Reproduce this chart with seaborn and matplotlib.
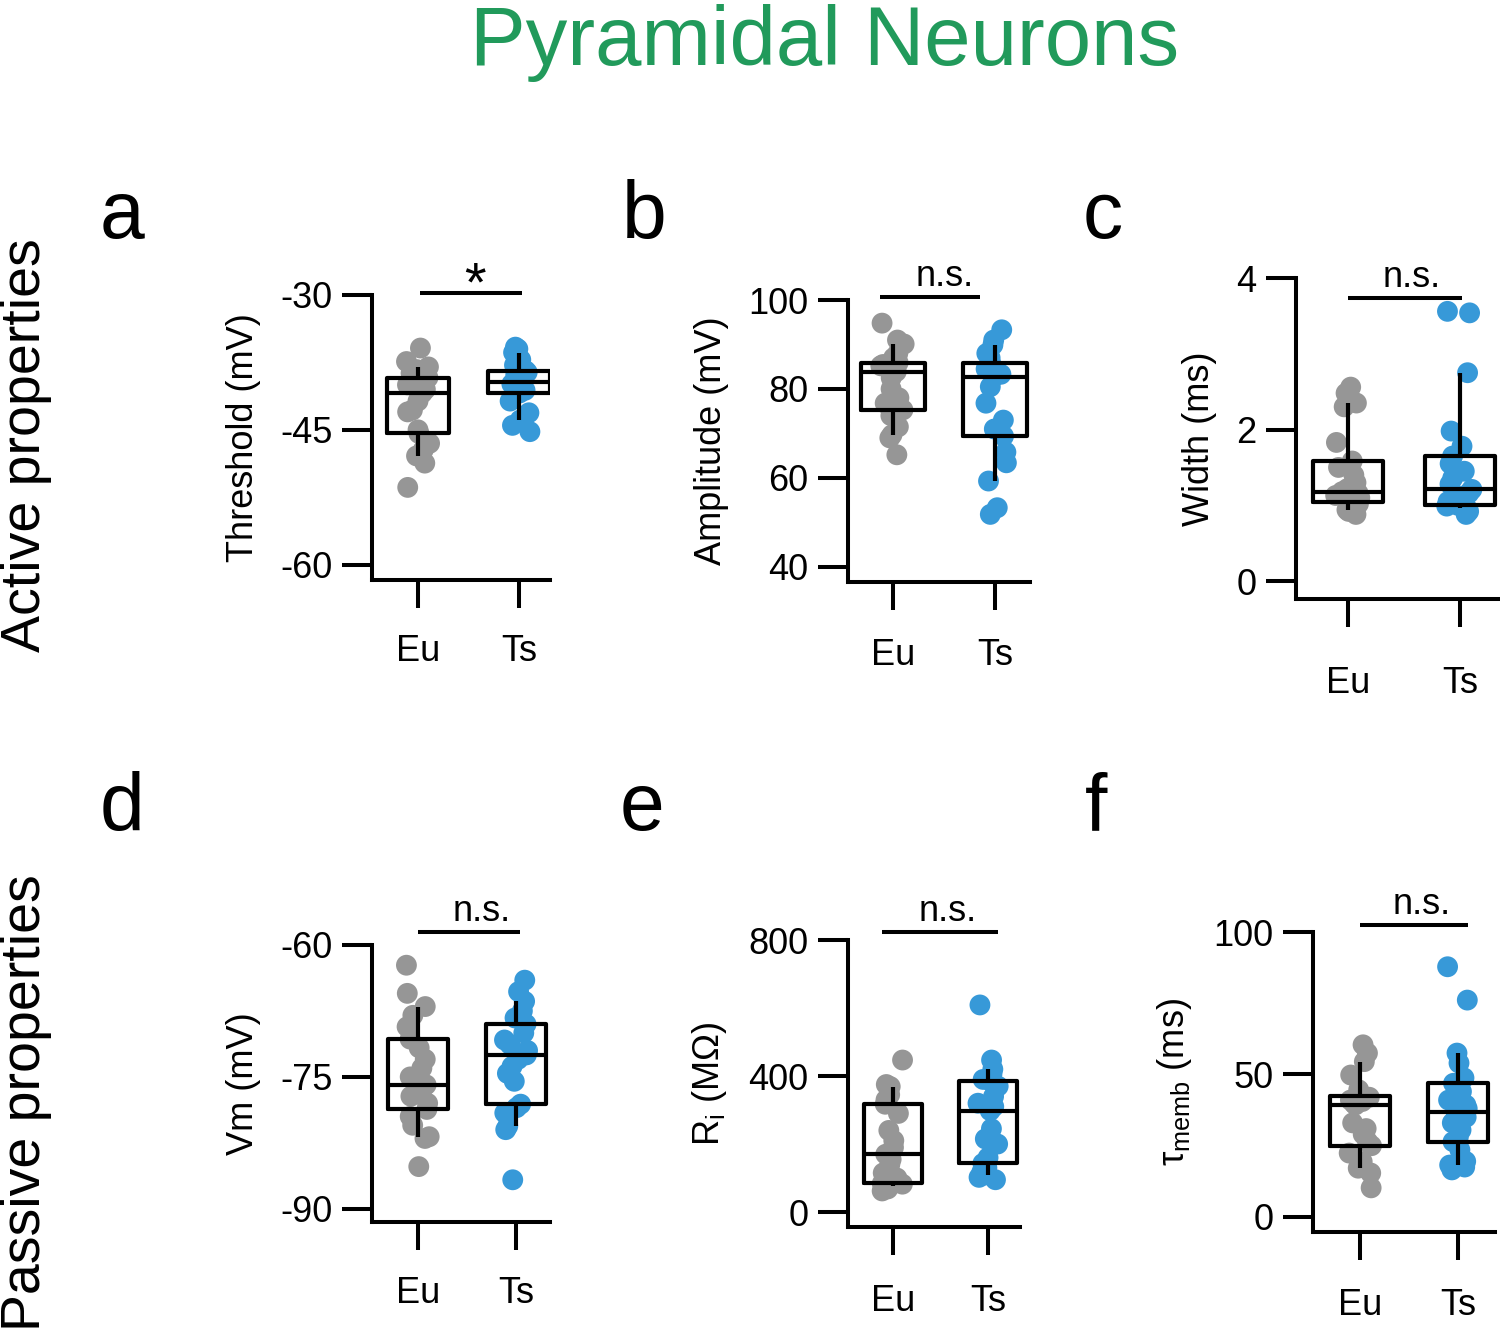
import numpy as np
import pandas as pd
import matplotlib
matplotlib.use('Agg')
import matplotlib.pyplot as plt
import seaborn as sns

#grupos e cores
groups = ['Eu', 'Ts']
gray = '#969696'
blue = '#3799d8'
green = '#219a5b'

#valores (21 células por grupo)
thr_eu = [-51.4, -48.7, -47.9, -47.2, -46.5, -45.4, -45.0, -43.0, -42.8, -41.8, -40.9,
          -40.5, -40.2, -40.0, -39.6, -39.2, -38.7, -38.3, -38.0, -37.4, -35.9]
thr_ts = [-45.2, -44.5, -43.9, -43.1, -41.8, -40.9, -40.6, -40.4, -40.1, -39.9, -39.7,
          -39.5, -39.2, -38.9, -38.6, -38.4, -37.8, -37.2, -36.4, -36.0, -35.8]
amp_eu = [65.2, 69.0, 69.7, 71.5, 74.0, 75.3, 76.8, 78.0, 80.0, 82.5, 83.9,
          84.3, 84.8, 85.2, 85.5, 85.9, 87.0, 88.0, 90.1, 91.0, 94.8]
amp_ts = [51.8, 53.3, 59.3, 63.4, 65.8, 69.4, 71.0, 73.0, 76.8, 80.5, 82.8,
          83.3, 83.8, 84.5, 85.2, 85.8, 87.0, 88.0, 89.9, 91.0, 93.3]
width_eu = [0.88, 0.92, 0.94, 0.98, 1.02, 1.04, 1.07, 1.10, 1.13, 1.16, 1.18,
            1.22, 1.30, 1.40, 1.50, 1.585, 1.83, 2.30, 2.35, 2.48, 2.56]
width_ts = [0.88, 0.92, 0.96, 0.99, 1.00, 1.01, 1.05, 1.08, 1.12, 1.16, 1.21,
            1.28, 1.36, 1.45, 1.55, 1.65, 1.78, 1.98, 2.75, 3.54, 3.56]
vm_eu = [-85.2, -82.0, -81.8, -80.5, -79.5, -78.7, -78.0, -77.2, -76.5, -76.2, -75.9,
         -75.0, -74.0, -73.0, -71.7, -70.7, -69.3, -68.0, -67.0, -65.5, -62.3]
vm_ts = [-86.7, -81.0, -80.6, -79.1, -78.5, -78.1, -75.5, -74.6, -73.8, -73.0, -72.5,
         -72.0, -71.3, -70.8, -70.0, -69.0, -68.3, -67.5, -66.4, -65.3, -64.0]
ri_eu = [62, 68, 76, 78, 82, 84, 100, 115, 140, 155, 170,
         190, 210, 240, 290, 317, 330, 345, 369, 375, 447]
ri_ts = [95, 102, 109, 118, 130, 143, 160, 200, 215, 245, 298,
         310, 320, 340, 370, 385, 390, 405, 420, 447, 609]
tau_eu = [10.2, 15.4, 17.1, 19.4, 22.4, 25.0, 26.5, 29.0, 31.0, 33.0, 39.3,
          39.8, 40.5, 41.0, 42.0, 42.6, 44.6, 49.8, 54.5, 57.5, 60.4]
tau_ts = [16.5, 17.5, 18.2, 19.5, 23.5, 26.4, 28.0, 30.5, 33.0, 35.0, 36.7,
          38.0, 39.3, 41.0, 44.0, 46.9, 48.8, 54.0, 57.5, 76.1, 87.8]

#estilo
sns.set_style('ticks')
plt.rcParams['font.family'] = ['Liberation Sans', 'DejaVu Sans']
plt.rcParams['axes.unicode_minus'] = False
plt.rcParams['mathtext.fontset'] = 'custom'
plt.rcParams['mathtext.rm'] = 'Liberation Sans'
plt.rcParams['mathtext.it'] = 'Liberation Sans:italic'
for k in ['text.color', 'axes.labelcolor', 'xtick.color', 'ytick.color', 'axes.edgecolor']:
    plt.rcParams[k] = 'black'
np.random.seed(7)

W, H = 1500, 1331
fig = plt.figure(figsize=(15, 13.31), dpi=100)

#posições em pixels: caixa do eixo (esq, topo, dir, base) e centro de Eu/Ts
paineis = [
    dict(letra='a', eu=thr_eu, ts=thr_ts, ylabel='Threshold (mV)', yticks=[-60, -45, -30],
         ylim=(-61.7, -30), box=(372, 295, 550, 580), xpx=(418, 519), letra_xy=(100, 238),
         sig='*', sig_x=(0.02, 1.03), sig_y=-29.8, sig_tx=0.56, sig_size=40, sig_off=-5, xpad=19),
    dict(letra='b', eu=amp_eu, ts=amp_ts, ylabel='Amplitude (mV)', yticks=[40, 60, 80, 100],
         ylim=(36.6, 100), box=(848, 300, 1030, 582), xpx=(893, 995), letra_xy=(622, 238),
         sig='n.s.', sig_x=(-0.13, 0.85), sig_y=100.7, sig_tx=0.51, sig_size=26, sig_off=8, xpad=20),
    dict(letra='c', eu=width_eu, ts=width_ts, ylabel='Width (ms)', yticks=[0, 2, 4],
         ylim=(-0.236, 4), box=(1296, 278, 1498, 599), xpx=(1348, 1460), letra_xy=(1083, 238),
         sig='n.s.', sig_x=(0.0, 1.02), sig_y=3.74, sig_tx=0.57, sig_size=26, sig_off=8, xpad=28),
    dict(letra='d', eu=vm_eu, ts=vm_ts, ylabel='Vm (mV)', yticks=[-90, -75, -60],
         ylim=(-91.5, -60), box=(372, 945, 550, 1222), xpx=(418, 516), letra_xy=(100, 830),
         sig='n.s.', sig_x=(0.0, 1.04), sig_y=-58.5, sig_tx=0.65, sig_size=26, sig_off=8, xpad=19),
    dict(letra='e', eu=ri_eu, ts=ri_ts, ylabel='R$_{\\mathrm{i}}$ (MΩ)', yticks=[0, 400, 800],
         ylim=(-44, 800), box=(848, 940, 1020, 1227), xpx=(893, 988), letra_xy=(620, 830),
         sig='n.s.', sig_x=(-0.12, 1.1), sig_y=823.5, sig_tx=0.58, sig_size=26, sig_off=8, xpad=21),
    dict(letra='f', eu=tau_eu, ts=tau_ts, ylabel='τ$_{\\mathrm{memb}}$ (ms)', yticks=[0, 50, 100],
         ylim=(-5.3, 100), box=(1313, 932, 1495, 1232), xpx=(1360, 1458), letra_xy=(1085, 830),
         sig='n.s.', sig_x=(0.0, 1.1), sig_y=102.5, sig_tx=0.63, sig_size=26, sig_off=8, xpad=20),
]

for p in paineis:
    l, t, r, b = p['box']
    ax = fig.add_axes([l / W, 1 - b / H, (r - l) / W, (b - t) / H])
    df = pd.DataFrame({'grupo': ['Eu'] * len(p['eu']) + ['Ts'] * len(p['ts']),
                       'valor': p['eu'] + p['ts']})
    sns.stripplot(data=df, x='grupo', y='valor', hue='grupo', order=groups, hue_order=groups,
                  palette=[gray, blue], size=15, jitter=0.12, linewidth=0, legend=False,
                  ax=ax, zorder=1)
    sns.boxplot(data=df, x='grupo', y='valor', order=groups, width=0.62, whis=(10, 90),
                showfliers=False, showcaps=False, fill=False, color='black', linecolor='black',
                linewidth=3.0, ax=ax, zorder=3)
    #limites a partir das posições em pixels
    unit = p['xpx'][1] - p['xpx'][0]
    ax.set_xlim((l - p['xpx'][0]) / unit, (r - p['xpx'][0]) / unit)
    ax.set_ylim(*p['ylim'])
    ax.set_yticks(p['yticks'])
    ax.set_yticklabels([str(v) for v in p['yticks']])
    ax.set_xlabel('')
    ax.set_ylabel(p['ylabel'], fontsize=26, labelpad=14)
    sns.despine(ax=ax)
    for s in ['left', 'bottom']:
        ax.spines[s].set_linewidth(2.9)
        ax.spines[s].set_capstyle('projecting')
    ax.tick_params(axis='y', length=21.5, width=2.9, pad=7, labelsize=26)
    ax.tick_params(axis='x', length=20, width=2.9, pad=p['xpad'], labelsize=26)
    #barra de significância
    x0, x1 = p['sig_x']
    ax.plot([x0, x1], [p['sig_y'], p['sig_y']], color='black', lw=2.9, clip_on=False,
            solid_capstyle='butt')
    ax.annotate(p['sig'], xy=(p['sig_tx'], p['sig_y']), xytext=(0, p['sig_off']),
                textcoords='offset points', ha='center', va='baseline',
                fontsize=p['sig_size'], annotation_clip=False)
    fig.text(p['letra_xy'][0] / W, 1 - p['letra_xy'][1] / H, p['letra'], fontsize=58,
             ha='left', va='baseline')

fig.text(825 / W, 1 - 65 / H, 'Pyramidal Neurons', color=green, fontsize=60,
         ha='center', va='baseline')
fig.text(26 / W, 1 - 445 / H, 'Active properties', rotation=90, fontsize=40,
         ha='center', va='center')
fig.text(26 / W, 1 - 1103 / H, 'Passive properties', rotation=90, fontsize=40,
         ha='center', va='center')

fig.savefig('out.png', dpi=100)
